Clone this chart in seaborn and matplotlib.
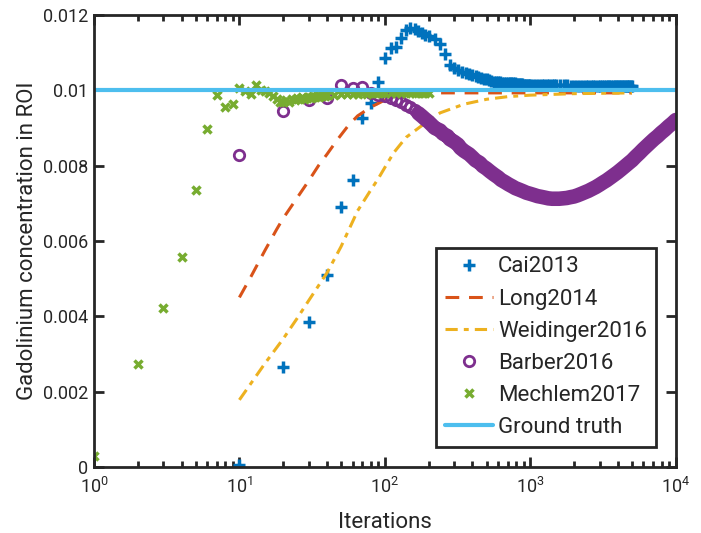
import matplotlib
matplotlib.use("Agg")
import matplotlib.pyplot as plt
import seaborn as sns
from matplotlib.ticker import LogLocator, FuncFormatter, NullFormatter, MultipleLocator

# --- data (concentration values, in units of 1e-3) ---
cai_iters = [10, 20, 30, 40, 50, 60, 70, 80, 90, 100, 110, 120, 130, 140, 150, 160, 170, 180, 190, 200,
             220, 240, 260, 280, 300, 320, 340, 360, 380, 400, 420, 440, 460, 480, 500, 520, 540, 560, 580, 600,
             620, 640, 660, 680, 700, 720, 740, 760, 780, 800, 820, 840, 860, 880, 900, 920, 940, 960, 980, 1000,
             1050, 1100, 1150, 1200, 1250, 1300, 1350, 1400, 1450, 1500,
             1600, 1700, 1800, 1900, 2000, 2100, 2200, 2300, 2400, 2500, 2600, 2700,
             2800, 2900, 3000, 3100, 3200, 3300, 3400, 3500, 3600, 3700, 3800, 3900,
             4000, 4100, 4200, 4300, 4400, 4500, 4600, 4700, 4800, 4900, 5000]
cai_vals = [0.05, 2.65, 3.85, 5.10, 6.90, 7.62, 9.26, 9.66, 10.22, 10.86, 11.12, 11.15, 11.40, 11.60, 11.64, 11.62, 11.57, 11.52, 11.47, 11.43,
            11.36, 11.22, 10.95, 10.66, 10.58, 10.53, 10.49, 10.46, 10.43, 10.40, 10.37, 10.35, 10.33, 10.31, 10.29, 10.27, 10.25, 10.23, 10.22, 10.21,
            10.21, 10.20, 10.20, 10.19, 10.19, 10.19, 10.18, 10.18, 10.18, 10.17, 10.17, 10.16, 10.16, 10.16, 10.15, 10.15, 10.15, 10.15, 10.14, 10.14,
            10.14, 10.14, 10.14, 10.13, 10.13, 10.13, 10.13, 10.13, 10.13, 10.13,
            10.13, 10.13, 10.13, 10.12, 10.12, 10.12, 10.12, 10.12, 10.12, 10.12, 10.12, 10.12,
            10.12, 10.12, 10.12, 10.12, 10.12, 10.12, 10.12, 10.12, 10.12, 10.12, 10.12, 10.12,
            10.12, 10.12, 10.12, 10.12, 10.12, 10.12, 10.12, 10.12, 10.12, 10.12, 10.12]

long_iters = [10, 12, 15, 18, 20, 25, 30, 35, 40, 47, 56, 65, 80, 100, 125, 160, 200, 300, 1000, 5000]
long_vals = [4.50, 5.05, 5.75, 6.30, 6.60, 7.15, 7.60, 8.00, 8.30, 8.68, 9.06, 9.32, 9.55, 9.74, 9.86, 9.91, 9.93, 9.93, 9.93, 9.93]

weid_iters = [10, 15, 20, 25, 30, 40, 50, 65, 80, 90, 100, 115, 140, 175, 240, 350, 500, 700, 1000, 2000, 5000]
weid_vals = [1.78, 2.75, 3.40, 3.95, 4.42, 5.15, 5.85, 6.80, 7.35, 7.65, 7.95, 8.34, 8.75, 9.03, 9.40, 9.63, 9.76, 9.83, 9.87, 9.91, 9.93]

barber_iters = [10, 20, 30, 40, 50, 60, 70, 80, 90, 100, 110, 120, 130, 140, 150, 160, 170, 180, 190, 200,
                210, 220, 240, 250, 270, 280, 300, 320, 330, 350, 380, 400, 420, 450, 470, 500, 530, 560, 600, 630,
                670, 710, 750, 790, 840, 890, 940, 1000, 1060, 1120, 1190, 1260, 1330, 1410, 1500, 1580, 1680, 1780,
                1880, 2000, 2110, 2240, 2370, 2510, 2660, 2820, 2990, 3160, 3350, 3550, 3760, 3980, 4220, 4470,
                4730, 5010, 5310, 5620, 5960, 6310, 6680, 7080, 7500, 7940, 8410, 8910, 9440, 10000]
barber_vals = [8.28, 9.45, 9.74, 9.80, 10.14, 10.06, 10.09, 9.93, 9.88, 9.84, 9.79, 9.75, 9.70, 9.62, 9.55, 9.47, 9.39, 9.31, 9.23, 9.16,
               9.08, 9.00, 8.93, 8.85, 8.78, 8.70, 8.63, 8.55, 8.47, 8.39, 8.30, 8.22, 8.14, 8.07, 7.99, 7.92, 7.84, 7.77, 7.69, 7.62,
               7.56, 7.50, 7.45, 7.40, 7.36, 7.32, 7.28, 7.25, 7.22, 7.19, 7.17, 7.15, 7.13, 7.12, 7.12, 7.12, 7.13, 7.14,
               7.16, 7.18, 7.21, 7.25, 7.29, 7.33, 7.38, 7.43, 7.49, 7.55, 7.61, 7.68, 7.75, 7.82, 7.90, 7.98,
               8.06, 8.14, 8.24, 8.33, 8.43, 8.52, 8.61, 8.70, 8.78, 8.87, 8.95, 9.04, 9.12, 9.21]

mech_iters = list(range(1, 41)) + [45, 50, 55, 60, 65, 70, 75, 80, 85, 90, 95, 100,
                                   110, 120, 130, 140, 150, 160, 170, 180, 190, 200]
mech_vals = [0.30, 2.72, 4.22, 5.58, 7.36, 8.98, 9.88, 9.56, 9.64, 10.06, 9.98, 9.90, 10.14, 10.02, 9.97, 9.93,
             9.85, 9.76, 9.70, 9.68, 9.74, 9.70, 9.78, 9.74, 9.80, 9.76, 9.82, 9.78, 9.80, 9.83, 9.79, 9.84,
             9.82, 9.85, 9.83, 9.86, 9.84, 9.87, 9.86, 9.88,
             9.88, 9.90, 9.89, 9.91, 9.90, 9.92, 9.91, 9.92, 9.92, 9.93, 9.92, 9.93,
             9.93, 9.93, 9.94, 9.93, 9.94, 9.94, 9.93, 9.94, 9.94, 9.94]

truth_iters = [1, 10000]
truth_vals = [10.0, 10.0]

c_cai, c_long, c_weid = "#0072BD", "#D95319", "#EDB120"
c_barber, c_mech, c_truth = "#7E2F8E", "#77AC30", "#4DBEEE"
ink = "#262626"

sns.set_style("ticks")
plt.rcParams["font.family"] = ["Roboto", "DejaVu Sans"]
plt.rcParams["mathtext.fontset"] = "custom"
plt.rcParams["mathtext.rm"] = "Roboto"
plt.rcParams["mathtext.it"] = "Roboto:italic"
plt.rcParams["mathtext.bf"] = "Roboto:bold"


def scaled(vals):
    return [v * 1e-3 for v in vals]


fig = plt.figure(figsize=(7.01, 5.33), dpi=100)
ax = fig.add_axes([0.134, 0.124, 0.830, 0.848])

sns.lineplot(x=cai_iters, y=scaled(cai_vals), ax=ax, estimator=None, sort=False,
             linestyle="none", marker="+", markersize=8.5, markeredgewidth=2.5,
             color=c_cai, markeredgecolor=c_cai, label="Cai2013")
sns.lineplot(x=long_iters, y=scaled(long_vals), ax=ax, estimator=None, sort=False,
             color=c_long, linewidth=2.2, linestyle=(0, (4.5, 3.2)), label="Long2014")
sns.lineplot(x=weid_iters, y=scaled(weid_vals), ax=ax, estimator=None, sort=False,
             color=c_weid, linewidth=2.2, linestyle=(0, (4, 2, 1.6, 2)), label="Weidinger2016")

# Barber is sampled so densely in the original that its circles merge into a band
n_sep = barber_iters.index(170)
sns.lineplot(x=barber_iters[n_sep:], y=scaled(barber_vals[n_sep:]), ax=ax, estimator=None,
             sort=False, color=c_barber, linewidth=10.5, solid_capstyle="round", legend=False)
sns.lineplot(x=barber_iters[:n_sep + 1], y=scaled(barber_vals[:n_sep + 1]), ax=ax, estimator=None,
             sort=False, linestyle="none", marker="o", markersize=7.5, markeredgewidth=2.0,
             color=c_barber, markeredgecolor=c_barber, markerfacecolor="none", label="Barber2016")
sns.lineplot(x=mech_iters, y=scaled(mech_vals), ax=ax, estimator=None, sort=False,
             linestyle="none", marker="x", markersize=6, markeredgewidth=2.5,
             color=c_mech, markeredgecolor=c_mech, label="Mechlem2017")
sns.lineplot(x=truth_iters, y=scaled(truth_vals), ax=ax, estimator=None, sort=False,
             color=c_truth, linewidth=3.0, label="Ground truth")

ax.set_xscale("log")
ax.set_xlim(1, 1e4)
ax.set_ylim(0, 0.012)
ax.xaxis.set_major_locator(LogLocator(base=10, numticks=10))
ax.xaxis.set_minor_locator(LogLocator(base=10, subs=range(2, 10), numticks=20))
ax.xaxis.set_minor_formatter(NullFormatter())
ax.yaxis.set_major_locator(MultipleLocator(0.002))
ax.yaxis.set_major_formatter(FuncFormatter(lambda v, p: f"{v:g}"))

for s in ax.spines.values():
    s.set_visible(True)
    s.set_linewidth(2.0)
    s.set_color(ink)
ax.tick_params(which="both", direction="in", top=True, right=True, color=ink,
               width=2.0, labelsize=13, labelcolor=ink)
ax.tick_params(axis="y", pad=4)
ax.tick_params(axis="x", pad=7)
ax.tick_params(which="major", length=7)
ax.tick_params(which="minor", length=4.5)

ax.set_xlabel("Iterations", fontsize=16, color=ink, labelpad=11)
ax.set_ylabel("Gadolinium concentration in ROI", fontsize=16, color=ink, labelpad=4)

leg = ax.legend(loc="lower right", fontsize=16, numpoints=1, handlelength=2.2,
                handletextpad=0.2, labelspacing=0.5, borderpad=0.4,
                borderaxespad=0.9, fancybox=False, framealpha=1)
leg.get_frame().set_edgecolor(ink)
leg.get_frame().set_linewidth(2.0)

fig.savefig("out.png", dpi=100)
